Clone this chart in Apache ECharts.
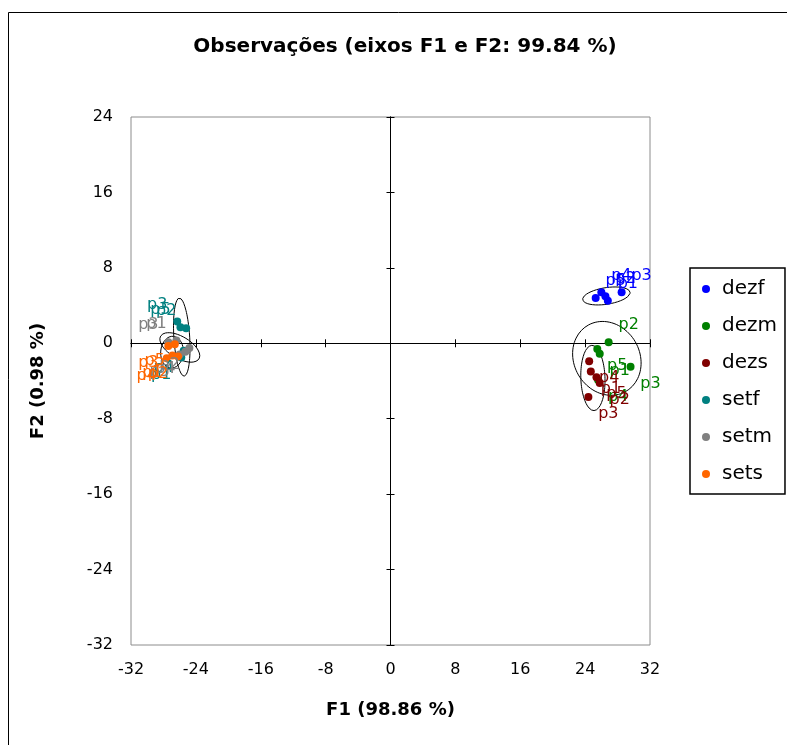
<!DOCTYPE html>
<html>
<head>
<meta charset="utf-8">
<script src="https://cdn.jsdelivr.net/npm/echarts@6/dist/echarts.min.js"></script>
<style>
  html, body { margin: 0; padding: 0; background: #ffffff; }
  #chart { width: 787px; height: 745px; }
</style>
</head>
<body>
<div id="chart"></div>
<script>
// Groups (observations) and their colours
const groupNames  = ['dezf', 'dezm', 'dezs', 'setf', 'setm', 'sets'];
const groupColors = ['#0000ff', '#008000', '#800000', '#008080', '#808080', '#ff6600'];
const pointNames  = ['p1', 'p2', 'p3', 'p4', 'p5'];

// Factor scores on F1 and F2, one pair of arrays per group (p1..p5)
const dezfF1 = [26.8, 26.5, 28.5, 26.0, 25.3];
const dezfF2 = [4.5, 5.0, 5.4, 5.4, 4.8];
const dezmF1 = [25.8, 26.9, 29.6, 25.6, 25.5];
const dezmF2 = [-1.1, 0.1, -2.5, -3.9, -0.6];
const dezsF1 = [24.7, 25.8, 24.4, 24.5, 25.4];
const dezsF2 = [-3.0, -4.2, -5.7, -1.9, -3.6];
const setfF1 = [-25.8, -25.2, -26.3, -25.5, -25.9];
const setfF2 = [-1.5, 1.6, 2.3, -0.8, 1.7];
const setmF1 = [-26.4, -24.8, -27.4, -25.3, -26.0];
const setmF2 = [0.3, -0.5, 0.1, -0.9, -1.2];
const setsF1 = [-26.9, -26.2, -27.4, -27.6, -26.6];
const setsF2 = [-1.3, -1.4, -0.3, -1.6, -0.1];

// Axis tick labels
const f1Ticks = [-32, -24, -16, -8, 0, 8, 16, 24, 32];
const f2Ticks = [-32, -24, -16, -8, 0, 8, 16, 24];

const groupF1 = [dezfF1, dezmF1, dezsF1, setfF1, setmF1, setsF1];
const groupF2 = [dezfF2, dezmF2, dezsF2, setfF2, setmF2, setsF2];

const FONT = '"DejaVu Sans", "Liberation Sans", Arial, sans-serif';

// 95 % confidence ellipse of a group, from its mean and sample covariance
function confidenceEllipse(xs, ys) {
  const n = xs.length;
  const mx = xs.reduce((a, b) => a + b, 0) / n;
  const my = ys.reduce((a, b) => a + b, 0) / n;
  let sxx = 0, syy = 0, sxy = 0;
  for (let i = 0; i < n; i++) {
    const dx = xs[i] - mx, dy = ys[i] - my;
    sxx += dx * dx; syy += dy * dy; sxy += dx * dy;
  }
  sxx /= (n - 1); syy /= (n - 1); sxy /= (n - 1);
  const tr = sxx + syy, det = sxx * syy - sxy * sxy;
  const disc = Math.sqrt(Math.max(tr * tr / 4 - det, 0));
  const l1 = tr / 2 + disc, l2 = Math.max(tr / 2 - disc, 0);
  const theta = 0.5 * Math.atan2(2 * sxy, sxx - syy);
  const k = Math.sqrt(5.991);
  const a = k * Math.sqrt(l1), b = k * Math.sqrt(l2);
  const pts = [];
  const steps = 90;
  for (let s = 0; s <= steps; s++) {
    const t = 2 * Math.PI * s / steps;
    const ca = Math.cos(t), sa = Math.sin(t);
    pts.push([
      mx + a * ca * Math.cos(theta) - b * sa * Math.sin(theta),
      my + a * ca * Math.sin(theta) + b * sa * Math.cos(theta)
    ]);
  }
  return pts;
}

const series = [];

// Ellipse outlines first, beneath the points
groupNames.forEach((g, gi) => {
  series.push({
    type: 'line',
    name: g + '-ellipse',
    xAxisIndex: 0, yAxisIndex: 0,
    data: confidenceEllipse(groupF1[gi], groupF2[gi]),
    showSymbol: false,
    symbol: 'none',
    silent: true,
    z: 1,
    lineStyle: { color: '#000000', width: 1 },
    animation: false
  });
});

// Observation points with their labels placed away from the origin
groupNames.forEach((g, gi) => {
  const xs = groupF1[gi], ys = groupF2[gi];
  series.push({
    type: 'scatter',
    name: g,
    xAxisIndex: 0, yAxisIndex: 0,
    symbol: 'circle',
    symbolSize: 8,
    z: 3,
    itemStyle: { color: groupColors[gi], opacity: 1 },
    data: xs.map((x, i) => ({
      name: pointNames[i],
      value: [x, ys[i]],
      label: {
        offset: [x >= 0 ? 20 : -20, ys[i] >= 0 ? -17 : 17]
      }
    })),
    label: {
      show: true,
      position: 'inside',
      formatter: '{b}',
      color: groupColors[gi],
      fontFamily: FONT,
      fontSize: 16,
      align: 'center',
      verticalAlign: 'middle'
    },
    animation: false
  });
});

const labelAxisX = {
  type: 'value',
  min: f1Ticks[0], max: f1Ticks[f1Ticks.length - 1], interval: 8,
  position: 'bottom',
  axisLine: { show: false, onZero: false },
  axisTick: { show: false },
  splitLine: { show: false },
  axisLabel: { margin: 17, fontSize: 16, color: '#000000', fontFamily: FONT },
  name: 'F1 (98.86 %)',
  nameLocation: 'middle',
  nameGap: 56,
  nameTextStyle: { fontSize: 18, fontWeight: 'bold', color: '#000000', fontFamily: FONT }
};
const labelAxisY = {
  type: 'value',
  min: f2Ticks[0], max: f2Ticks[f2Ticks.length - 1], interval: 8,
  position: 'left',
  axisLine: { show: false, onZero: false },
  axisTick: { show: false },
  splitLine: { show: false },
  axisLabel: { margin: 18, fontSize: 16, color: '#000000', fontFamily: FONT },
  name: 'F2 (0.98 %)',
  nameLocation: 'middle',
  nameGap: 84,
  nameTextStyle: { fontSize: 18, fontWeight: 'bold', color: '#000000', fontFamily: FONT }
};
// Axes crossing at the origin, with ticks on both sides of each line
function crossAxis(base, inside) {
  return {
    type: 'value',
    min: base.min, max: base.max, interval: 8,
    axisLine: { show: true, onZero: true, onZeroAxisIndex: 0, lineStyle: { color: '#000000', width: 1 } },
    axisTick: { show: true, inside: inside, length: 4, lineStyle: { color: '#000000', width: 1 } },
    axisLabel: { show: false },
    splitLine: { show: false }
  };
}

const option = {
  animation: false,
  backgroundColor: '#ffffff',
  grid: {
    left: 131, top: 117, width: 519, height: 528,
    show: true, borderColor: '#8c8c8c', borderWidth: 1, backgroundColor: 'transparent'
  },
  xAxis: [labelAxisX, crossAxis(labelAxisX, false), crossAxis(labelAxisX, true)],
  yAxis: [labelAxisY, crossAxis(labelAxisY, false), crossAxis(labelAxisY, true)],
  legend: {
    data: groupNames,
    orient: 'vertical',
    left: 690, top: 268,
    padding: [11, 8, 10, 12],
    itemGap: 17,
    itemWidth: 8, itemHeight: 8,
    icon: 'circle',
    borderColor: '#000000',
    borderWidth: 1.5,
    textStyle: { fontSize: 20, color: '#000000', fontFamily: FONT, padding: [0, 0, 0, 7] }
  },
  graphic: [
    {
      type: 'rect',
      shape: { x: 8.5, y: 12.5, width: 800, height: 800 },
      style: { fill: 'none', stroke: '#000000', lineWidth: 1 },
      silent: true
    },
    {
      type: 'text',
      x: 405, y: 47,
      style: {
        text: 'Observações (eixos F1 e F2: 99.84 %)',
        align: 'center', verticalAlign: 'middle',
        fontSize: 20, fontWeight: 'bold', fontFamily: FONT, fill: '#000000'
      },
      silent: true
    }
  ],
  series: series
};

const chart = echarts.init(document.getElementById('chart'), null, { renderer: 'canvas' });
chart.setOption(option);
</script>
</body>
</html>
